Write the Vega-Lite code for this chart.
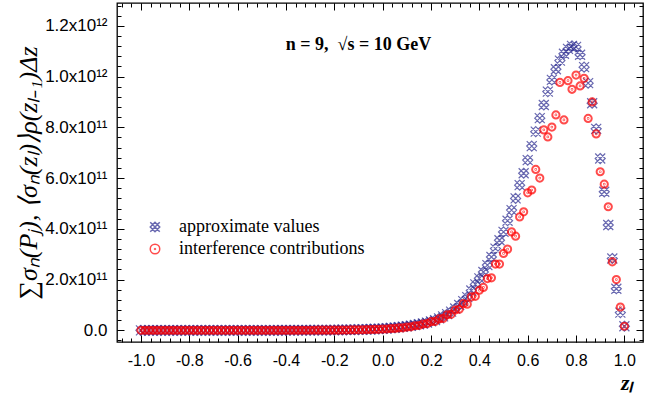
{
  "$schema": "https://vega.github.io/schema/vega-lite/v6.json",
  "width": 526,
  "height": 339,
  "autosize": "none",
  "padding": {"left": 117, "top": 3, "right": 2, "bottom": 60},
  "config": {
    "view": {"stroke": "black", "strokeWidth": 1.3},
    "axis": {
      "domain": false,
      "grid": false,
      "tickColor": "black",
      "tickWidth": 1,
      "labelColor": "black",
      "labelFont": "Liberation Sans",
      "labelFontSize": 16
    }
  },
  "datasets": {
    "pts": [
      {"z": -1, "approx": 3e5, "interf": 2e5},
      {"z": -0.9833, "approx": 4e5, "interf": 3e5},
      {"z": -0.9667, "approx": 5e5, "interf": 3e5},
      {"z": -0.95, "approx": 6e5, "interf": 4e5},
      {"z": -0.9333, "approx": 7e5, "interf": 5e5},
      {"z": -0.9167, "approx": 8e5, "interf": 6e5},
      {"z": -0.9, "approx": 1e6, "interf": 7e5},
      {"z": -0.8833, "approx": 1.2e6, "interf": 8e5},
      {"z": -0.8667, "approx": 1.4e6, "interf": 1e6},
      {"z": -0.85, "approx": 1.7e6, "interf": 1.2e6},
      {"z": -0.8333, "approx": 2e6, "interf": 1.4e6},
      {"z": -0.8167, "approx": 2.5e6, "interf": 1.7e6},
      {"z": -0.8, "approx": 3e6, "interf": 2e6},
      {"z": -0.7833, "approx": 3.5e6, "interf": 2.4e6},
      {"z": -0.7667, "approx": 4e6, "interf": 2.9e6},
      {"z": -0.75, "approx": 5e6, "interf": 3.5e6},
      {"z": -0.7333, "approx": 6e6, "interf": 4.2e6},
      {"z": -0.7167, "approx": 7e6, "interf": 5e6},
      {"z": -0.7, "approx": 8e6, "interf": 6e6},
      {"z": -0.6833, "approx": 1e7, "interf": 7e6},
      {"z": -0.6667, "approx": 1.2e7, "interf": 8.5e6},
      {"z": -0.65, "approx": 1.4e7, "interf": 1e7},
      {"z": -0.6333, "approx": 1.7e7, "interf": 1.2e7},
      {"z": -0.6167, "approx": 2e7, "interf": 1.4e7},
      {"z": -0.6, "approx": 2.5e7, "interf": 1.7e7},
      {"z": -0.5833, "approx": 3e7, "interf": 2.1e7},
      {"z": -0.5667, "approx": 3.5e7, "interf": 2.5e7},
      {"z": -0.55, "approx": 4e7, "interf": 3e7},
      {"z": -0.5333, "approx": 5e7, "interf": 3.6e7},
      {"z": -0.5167, "approx": 6e7, "interf": 4.3e7},
      {"z": -0.5, "approx": 7e7, "interf": 5e7},
      {"z": -0.4833, "approx": 8e7, "interf": 6e7},
      {"z": -0.4667, "approx": 9e7, "interf": 7e7},
      {"z": -0.45, "approx": 1.1e8, "interf": 8e7},
      {"z": -0.4333, "approx": 1.3e8, "interf": 9.5e7},
      {"z": -0.4167, "approx": 1.5e8, "interf": 1.1e8},
      {"z": -0.4, "approx": 1.8e8, "interf": 1.3e8},
      {"z": -0.3833, "approx": 2.1e8, "interf": 1.5e8},
      {"z": -0.3667, "approx": 2.5e8, "interf": 1.8e8},
      {"z": -0.35, "approx": 2.9e8, "interf": 2.1e8},
      {"z": -0.3333, "approx": 3.4e8, "interf": 2.5e8},
      {"z": -0.3167, "approx": 4e8, "interf": 2.9e8},
      {"z": -0.3, "approx": 4.7e8, "interf": 3.3e8},
      {"z": -0.2833, "approx": 5.5e8, "interf": 3.4e8},
      {"z": -0.2667, "approx": 6.5e8, "interf": 4.5e8},
      {"z": -0.25, "approx": 7.6e8, "interf": 4.6e8},
      {"z": -0.2333, "approx": 9e8, "interf": 6e8},
      {"z": -0.2167, "approx": 1.05e9, "interf": 6.1e8},
      {"z": -0.2, "approx": 1.2e9, "interf": 8e8},
      {"z": -0.1833, "approx": 1.4e9, "interf": 8.2e8},
      {"z": -0.1667, "approx": 1.6e9, "interf": 1.1e9},
      {"z": -0.15, "approx": 1.9e9, "interf": 1.1e9},
      {"z": -0.1333, "approx": 2.2e9, "interf": 1.5e9},
      {"z": -0.1167, "approx": 2.5e9, "interf": 1.5e9},
      {"z": -0.1, "approx": 2.9e9, "interf": 2e9},
      {"z": -0.0833, "approx": 3.3e9, "interf": 2.1e9},
      {"z": -0.0667, "approx": 3.8e9, "interf": 2.7e9},
      {"z": -0.05, "approx": 4.4e9, "interf": 2.8e9},
      {"z": -0.0333, "approx": 5.1e9, "interf": 3.7e9},
      {"z": -0.0167, "approx": 5.9e9, "interf": 3.9e9},
      {"z": 0, "approx": 6.8e9, "interf": 5e9},
      {"z": 0.0167, "approx": 7.8e9, "interf": 5.3e9},
      {"z": 0.0333, "approx": 9e9, "interf": 7e9},
      {"z": 0.05, "approx": 1.05e10, "interf": 7.3e9},
      {"z": 0.0667, "approx": 1.2e10, "interf": 9.5e9},
      {"z": 0.0833, "approx": 1.4e10, "interf": 1e10},
      {"z": 0.1, "approx": 1.6e10, "interf": 1.3e10},
      {"z": 0.1167, "approx": 1.8e10, "interf": 1.4e10},
      {"z": 0.1333, "approx": 2.1e10, "interf": 1.8e10},
      {"z": 0.15, "approx": 2.4e10, "interf": 1.9e10},
      {"z": 0.1667, "approx": 2.7e10, "interf": 2.5e10},
      {"z": 0.1833, "approx": 3.05e10, "interf": 2.6e10},
      {"z": 0.2, "approx": 3.5e10, "interf": 3.4e10},
      {"z": 0.2167, "approx": 4e10, "interf": 3.5e10},
      {"z": 0.2333, "approx": 4.7e10, "interf": 4.5e10},
      {"z": 0.25, "approx": 5.5e10, "interf": 4.7e10},
      {"z": 0.2667, "approx": 6.4e10, "interf": 6.1e10},
      {"z": 0.2833, "approx": 7.4e10, "interf": 6.3e10},
      {"z": 0.3, "approx": 8.6e10, "interf": 8e10},
      {"z": 0.3167, "approx": 1e11, "interf": 8.3e10},
      {"z": 0.3333, "approx": 1.15e11, "interf": 1.05e11},
      {"z": 0.35, "approx": 1.31e11, "interf": 1.03e11},
      {"z": 0.3667, "approx": 1.57e11, "interf": 1.32e11},
      {"z": 0.3833, "approx": 1.81e11, "interf": 1.34e11},
      {"z": 0.4, "approx": 2.05e11, "interf": 1.58e11},
      {"z": 0.4167, "approx": 2.3e11, "interf": 1.69e11},
      {"z": 0.4333, "approx": 2.57e11, "interf": 2.04e11},
      {"z": 0.45, "approx": 2.89e11, "interf": 2.07e11},
      {"z": 0.4667, "approx": 3.22e11, "interf": 2.61e11},
      {"z": 0.4833, "approx": 3.55e11, "interf": 2.61e11},
      {"z": 0.5, "approx": 3.88e11, "interf": 3.03e11},
      {"z": 0.5167, "approx": 4.32e11, "interf": 3.2e11},
      {"z": 0.5333, "approx": 4.74e11, "interf": 3.88e11},
      {"z": 0.55, "approx": 5.2e11, "interf": 3.71e11},
      {"z": 0.5667, "approx": 5.72e11, "interf": 4.47e11},
      {"z": 0.5833, "approx": 6.19e11, "interf": 4.67e11},
      {"z": 0.6, "approx": 6.71e11, "interf": 5.42e11},
      {"z": 0.6167, "approx": 7.26e11, "interf": 5.53e11},
      {"z": 0.6333, "approx": 7.83e11, "interf": 6.34e11},
      {"z": 0.65, "approx": 8.36e11, "interf": 6e11},
      {"z": 0.6667, "approx": 8.88e11, "interf": 7.9e11},
      {"z": 0.6833, "approx": 9.41e11, "interf": 7.62e11},
      {"z": 0.7, "approx": 9.87e11, "interf": 8.01e11},
      {"z": 0.7167, "approx": 1.029e12, "interf": 8.49e11},
      {"z": 0.7333, "approx": 1.063e12, "interf": 9.77e11},
      {"z": 0.75, "approx": 1.09e12, "interf": 8.29e11},
      {"z": 0.7667, "approx": 1.109e12, "interf": 9.84e11},
      {"z": 0.7833, "approx": 1.121e12, "interf": 9.5e11},
      {"z": 0.8, "approx": 1.117e12, "interf": 1.006e12},
      {"z": 0.8167, "approx": 1.086e12, "interf": 9.63e11},
      {"z": 0.8333, "approx": 1.037e12, "interf": 9.93e11},
      {"z": 0.85, "approx": 9.74e11, "interf": 8.35e11},
      {"z": 0.8667, "approx": 8.95e11, "interf": 9e11},
      {"z": 0.8833, "approx": 7.94e11, "interf": 7.74e11},
      {"z": 0.9, "approx": 6.77e11, "interf": 6.25e11},
      {"z": 0.9167, "approx": 5.46e11, "interf": 5.76e11},
      {"z": 0.9333, "approx": 4.15e11, "interf": 4.87e11},
      {"z": 0.95, "approx": 2.83e11, "interf": 2.7e11},
      {"z": 0.9667, "approx": 1.64e11, "interf": 2e11},
      {"z": 0.9833, "approx": 7e10, "interf": 9.2e10},
      {"z": 1, "approx": 1.6e10, "interf": 1.6e10}
    ]
  },
  "resolve": {"axis": {"x": "independent", "y": "independent"}},
  "layer": [
    {
      "data": {"name": "pts"},
      "mark": {"type": "point", "opacity": 0},
      "encoding": {
        "x": {"field": "z", "type": "quantitative", "scale": {"domain": [-1.099, 1.077], "nice": false},
          "axis": {"orient": "bottom", "values": [-1.08, -1.04, -1, -0.96, -0.92, -0.88, -0.84, -0.8, -0.76, -0.72, -0.68, -0.64, -0.6, -0.56, -0.52, -0.48, -0.44, -0.4, -0.36, -0.32, -0.28, -0.24, -0.2, -0.16, -0.12, -0.08, -0.04, 0, 0.04, 0.08, 0.12, 0.16, 0.2, 0.24, 0.28, 0.32, 0.36, 0.4, 0.44, 0.48, 0.52, 0.56, 0.6, 0.64, 0.68, 0.72, 0.76, 0.8, 0.84, 0.88, 0.92, 0.96, 1, 1.04], "labels": false, "tickSize": -4, "title": null}},
        "y": {"field": "approx", "type": "quantitative", "scale": {"domain": [-4.6e10, 1.29e12], "nice": false, "zero": false},
          "axis": {"orient": "left", "values": [-4e10, 0, 4e10, 8e10, 1.2e11, 1.6e11, 2e11, 2.4e11, 2.8e11, 3.2e11, 3.6e11, 4e11, 4.4e11, 4.8e11, 5.2e11, 5.6e11, 6e11, 6.4e11, 6.8e11, 7.2e11, 7.6e11, 8e11, 8.4e11, 8.8e11, 9.2e11, 9.6e11, 1e12, 1.04e12, 1.08e12, 1.12e12, 1.16e12, 1.2e12, 1.24e12, 1.28e12], "labels": false, "tickSize": -4, "title": null}}
      }
    },
    {
      "data": {"name": "pts"},
      "mark": {"type": "point", "opacity": 0},
      "encoding": {
        "x": {"field": "z", "type": "quantitative", "scale": {"domain": [-1.099, 1.077], "nice": false},
          "axis": {"orient": "top", "values": [-1.08, -1.04, -1, -0.96, -0.92, -0.88, -0.84, -0.8, -0.76, -0.72, -0.68, -0.64, -0.6, -0.56, -0.52, -0.48, -0.44, -0.4, -0.36, -0.32, -0.28, -0.24, -0.2, -0.16, -0.12, -0.08, -0.04, 0, 0.04, 0.08, 0.12, 0.16, 0.2, 0.24, 0.28, 0.32, 0.36, 0.4, 0.44, 0.48, 0.52, 0.56, 0.6, 0.64, 0.68, 0.72, 0.76, 0.8, 0.84, 0.88, 0.92, 0.96, 1, 1.04], "labels": false, "tickSize": -4, "title": null}},
        "y": {"field": "approx", "type": "quantitative", "scale": {"domain": [-4.6e10, 1.29e12], "nice": false, "zero": false},
          "axis": {"orient": "right", "values": [-4e10, 0, 4e10, 8e10, 1.2e11, 1.6e11, 2e11, 2.4e11, 2.8e11, 3.2e11, 3.6e11, 4e11, 4.4e11, 4.8e11, 5.2e11, 5.6e11, 6e11, 6.4e11, 6.8e11, 7.2e11, 7.6e11, 8e11, 8.4e11, 8.8e11, 9.2e11, 9.6e11, 1e12, 1.04e12, 1.08e12, 1.12e12, 1.16e12, 1.2e12, 1.24e12, 1.28e12], "labels": false, "tickSize": -4, "title": null}}
      }
    },
    {
      "data": {"name": "pts"},
      "mark": {"type": "point", "opacity": 0},
      "encoding": {
        "x": {"field": "z", "type": "quantitative", "scale": {"domain": [-1.099, 1.077], "nice": false},
          "axis": {"orient": "top", "values": [-1, -0.8, -0.6, -0.4, -0.2, 0, 0.2, 0.4, 0.6, 0.8, 1], "labels": false, "tickSize": -7, "title": null}},
        "y": {"field": "approx", "type": "quantitative", "scale": {"domain": [-4.6e10, 1.29e12], "nice": false, "zero": false},
          "axis": {"orient": "right", "values": [0, 2e11, 4e11, 6e11, 8e11, 1e12, 1.2e12], "labels": false, "tickSize": -7, "title": null}}
      }
    },
    {
      "data": {"name": "pts"},
      "transform": [{"fold": ["approx", "interf"], "as": ["series", "v"]}],
      "mark": {"type": "point", "filled": false},
      "encoding": {
        "x": {"field": "z", "type": "quantitative", "scale": {"domain": [-1.099, 1.077], "nice": false},
          "axis": {"orient": "bottom", "values": [-1, -0.8, -0.6, -0.4, -0.2, 0, 0.2, 0.4, 0.6, 0.8, 1], "tickSize": -7, "labelPadding": 17,
            "labelExpr": "replace(format(datum.value, '.1f'), '\u2212', '-')",
            "title": "zₗ", "titleFont": "Liberation Serif", "titleFontStyle": "italic", "titleFontWeight": "bold", "titleFontSize": 22,
            "titleAlign": "right", "titleBaseline": "alphabetic", "titleX": 516, "titleY": 47}},
        "y": {"field": "v", "type": "quantitative", "scale": {"domain": [-4.6e10, 1.29e12], "nice": false, "zero": false},
          "axis": {"orient": "left", "values": [0, 2e11, 4e11, 6e11, 8e11, 1e12, 1.2e12], "tickSize": -7, "labelPadding": 17, "labelFontSize": 17,
            "labelExpr": "datum.value == 0 ? '0.0' : datum.value >= 999999999999 ? format(datum.value / 1000000000000, '.1f') + 'x10¹²' : format(datum.value / 100000000000, '.1f') + 'x10¹¹'",
            "title": "∑σₙ(Pⱼ),  ⟨σₙ(zₗ)⟩ρ(zₗ₋₁)Δz", "titleFont": "Liberation Serif", "titleFontStyle": "italic", "titleFontWeight": "normal", "titleFontSize": 26, "titlePadding": 3}},
        "color": {"field": "series", "type": "nominal",
          "scale": {"domain": ["approx", "interf"], "range": ["#2a2a90", "#ff0000"]},
          "legend": {"title": null, "orient": "none", "legendX": 29, "legendY": 215, "padding": 0,
            "labelExpr": "datum.label == 'approx' ? 'approximate values' : 'interference contributions'",
            "labelFont": "Liberation Serif", "labelFontSize": 18, "labelColor": "black", "labelOffset": 15, "labelLimit": 0,
            "symbolSize": 90, "rowPadding": 4}},
        "shape": {"field": "series", "type": "nominal",
          "scale": {"domain": ["approx", "interf"], "range": ["M-1,-1L1,1M-1,1L1,-1M0,-1L1,0L0,1L-1,0Z", "M1,0A1,1,0,1,1,-1,0A1,1,0,1,1,1,0ZM0.1,0A0.1,0.1,0,1,1,-0.1,0A0.1,0.1,0,1,1,0.1,0Z"]},
          "legend": {"title": null, "orient": "none", "legendX": 29, "legendY": 215, "padding": 0,
            "labelExpr": "datum.label == 'approx' ? 'approximate values' : 'interference contributions'",
            "labelFont": "Liberation Serif", "labelFontSize": 18, "labelColor": "black", "labelOffset": 15, "labelLimit": 0,
            "symbolSize": 90, "rowPadding": 4}},
        "size": {"condition": {"test": "datum.series == 'interf'", "value": 52}, "value": 100},
        "strokeWidth": {"condition": {"test": "datum.series == 'interf'", "value": 2}, "value": 1.2},
        "order": {"field": "series", "sort": "ascending"}
      }
    },
    {
      "data": {"values": [{"z": -0.1, "v": 1.125e12, "label": "n = 9,\u00a0\u00a0√s = 10 GeV"}]},
      "mark": {"type": "text", "font": "Liberation Serif", "fontWeight": "bold", "fontSize": 18, "align": "center", "baseline": "middle", "color": "black"},
      "encoding": {
        "x": {"field": "z", "type": "quantitative", "scale": {"domain": [-1.099, 1.077], "nice": false}, "axis": null},
        "y": {"field": "v", "type": "quantitative", "scale": {"domain": [-4.6e10, 1.29e12], "nice": false, "zero": false}, "axis": null},
        "text": {"field": "label"}
      }
    }
  ]
}
